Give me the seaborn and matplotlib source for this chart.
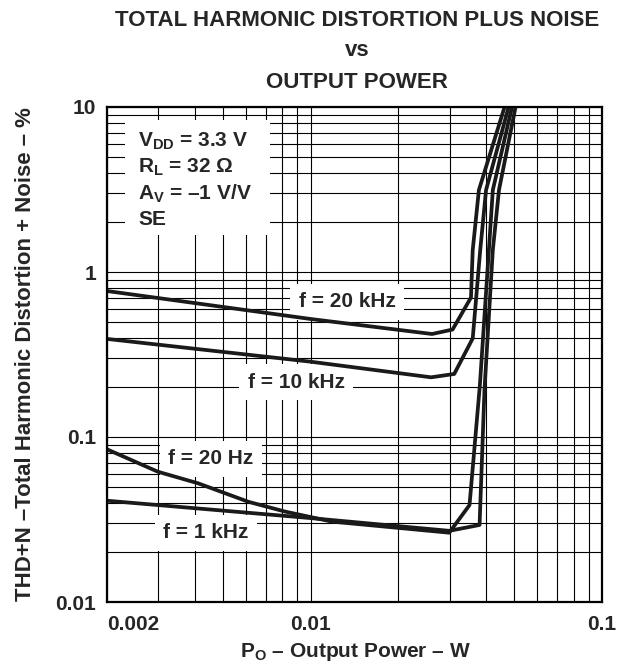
import numpy as np
import pandas as pd
import matplotlib
matplotlib.use("Agg")
import matplotlib.pyplot as plt
import seaborn as sns
from matplotlib.patches import Rectangle

# ---- data ----
x_20khz = [0.002, 0.01, 0.0261, 0.0307, 0.0355, 0.0360, 0.0378, 0.0463]
y_20khz = [0.767, 0.519, 0.421, 0.448, 0.70, 1.36, 3.14, 10.0]

x_10khz = [0.002, 0.01, 0.0259, 0.0311, 0.0360, 0.0382, 0.0400, 0.0478]
y_10khz = [0.393, 0.286, 0.230, 0.241, 0.396, 1.36, 3.14, 10.0]

x_20hz = [0.002, 0.00299, 0.00411, 0.00611, 0.00818, 0.01184, 0.0299, 0.0351, 0.0381, 0.0409, 0.0422, 0.0491]
y_20hz = [0.0842, 0.0616, 0.0524, 0.0405, 0.0353, 0.0307, 0.0263, 0.0387, 0.207, 1.36, 3.14, 10.0]

x_1khz = [0.002, 0.0101, 0.0299, 0.0380, 0.0395, 0.0422, 0.0443, 0.0505]
y_1khz = [0.0411, 0.0322, 0.0270, 0.0293, 0.193, 1.36, 3.14, 10.0]

series_names = ["f = 20 kHz", "f = 10 kHz", "f = 20 Hz", "f = 1 kHz"]
x_ticks = [0.002, 0.01, 0.1]
x_ticklabels = ["0.002", "0.01", "0.1"]
y_ticks = [0.01, 0.1, 1, 10]
y_ticklabels = ["0.01", "0.1", "1", "10"]

title_lines = ["TOTAL HARMONIC DISTORTION PLUS NOISE", "vs", "OUTPUT POWER"]
cond_lines = [r"V$_{\mathregular{DD}}$ = 3.3 V", r"R$_{\mathregular{L}}$ = 32 Ω",
              r"A$_{\mathregular{V}}$ = –1 V/V", "SE"]
x_label = r"P$_{\mathregular{O}}$ – Output Power – W"
y_label = "THD+N –Total Harmonic Distortion + Noise – %"

frames = []
for name, xs, ys in zip(series_names,
                        [x_20khz, x_10khz, x_20hz, x_1khz],
                        [y_20khz, y_10khz, y_20hz, y_1khz]):
    frames.append(pd.DataFrame({"P": xs, "THD": ys, "series": name}))
df = pd.concat(frames, ignore_index=True)

# ---- style ----
sns.set_style("white")
plt.rcParams["font.family"] = ["Liberation Sans", "DejaVu Sans"]
plt.rcParams["font.weight"] = "bold"
plt.rcParams["mathtext.fontset"] = "custom"
plt.rcParams["mathtext.rm"] = "Liberation Sans:bold"
plt.rcParams["mathtext.it"] = "Liberation Sans:bold"
plt.rcParams["mathtext.bf"] = "Liberation Sans:bold"
plt.rcParams["mathtext.default"] = "rm"

FS = 15

fig = plt.figure(figsize=(6.28, 6.66), dpi=100)
ax = fig.add_axes([107 / 628, 1 - 602 / 666, 495 / 628, 495 / 666])

sns.lineplot(data=df, x="P", y="THD", hue="series", sort=False,
             palette={n: "#1a1a1a" for n in series_names}, linewidth=2.7,
             legend=False, ax=ax, zorder=3, estimator=None)

ax.set_xscale("log")
ax.set_yscale("log")
ax.set_xlim(0.002, 0.1)
ax.set_ylim(0.01, 10)

ax.set_axisbelow(True)
ax.grid(which="both", color="black", linewidth=0.8)
ax.set_xticks(x_ticks)
ax.set_xticklabels(x_ticklabels)
ax.set_yticks(y_ticks)
ax.set_yticklabels(y_ticklabels)
ax.xaxis.set_minor_formatter(matplotlib.ticker.NullFormatter())
ax.yaxis.set_minor_formatter(matplotlib.ticker.NullFormatter())
ax.tick_params(which="both", length=0, labelsize=FS)
ax.tick_params(axis="x", pad=9)
ax.tick_params(axis="y", pad=8)
xl = ax.get_xticklabels()
xl[0].set_horizontalalignment("left")
for t in ax.get_xticklabels() + ax.get_yticklabels():
    t.set_fontweight("bold")
for s in ax.spines.values():
    s.set_color("black")
    s.set_linewidth(1.6)
    s.set_zorder(4)

ax.set_xlabel("")
ax.set_ylabel(y_label, fontsize=16, fontweight="bold", labelpad=14)
fig.text(355 / 628, 1 - 657 / 666, x_label, ha="center", va="baseline",
         fontsize=FS, fontweight="bold")

# condition box
ax.add_patch(Rectangle((18 / 495, (602 - 235) / 495), 145 / 495, 115 / 495,
                       transform=ax.transAxes, facecolor="white",
                       edgecolor="none", zorder=2.5))
for line, by in zip(cond_lines, [147, 173, 200, 225]):
    ax.text((138 - 107) / 495, (602 - by) / 495, line, transform=ax.transAxes,
            fontsize=FS, fontweight="bold", va="baseline", ha="left",
            zorder=2.6)

# curve labels
label_pos = {"f = 20 kHz": (347, 302), "f = 10 kHz": (296, 382),
             "f = 20 Hz": (211, 459), "f = 1 kHz": (206, 533)}
for name in series_names:
    px, py = label_pos[name]
    ax.text((px - 107) / 495, (602 - py) / 495, name, transform=ax.transAxes,
            fontsize=FS, fontweight="bold", ha="center", va="center",
            zorder=2.5,
            bbox=dict(boxstyle="square,pad=0.42", facecolor="white",
                      edgecolor="none"))

# title
for line, cy in zip(title_lines, [20, 51, 82]):
    fig.text(357 / 628, 1 - cy / 666, line, ha="center", va="center",
             fontsize=16, fontweight="bold")

fig.savefig("out.png", dpi=100)
